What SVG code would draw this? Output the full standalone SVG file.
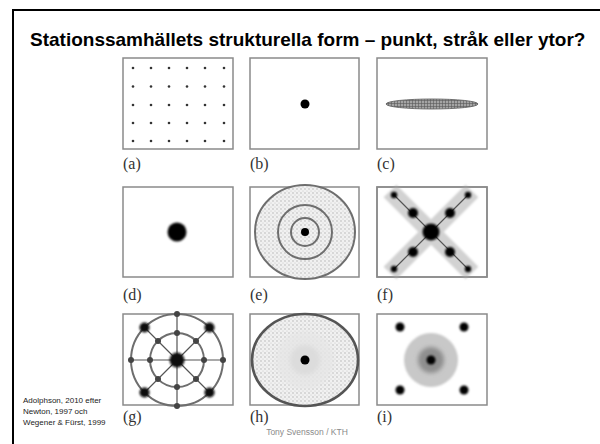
<svg xmlns="http://www.w3.org/2000/svg" width="600" height="444" viewBox="0 0 600 444">
<defs>
<style>
.box{fill:#fff;stroke:#8a8a8a;stroke-width:1.5}
.lbl{font-family:"Liberation Serif","Times New Roman",serif;font-size:16px;fill:#333}
.dot{fill:#000}
.ring{fill:none;stroke:#6e6e6e;stroke-width:2}
.ln{stroke:#555;stroke-width:1.2;fill:none}
</style>
<pattern id="stip" width="4" height="4" patternUnits="userSpaceOnUse">
<rect width="4" height="4" fill="#f1f1f1"/>
<circle cx="1" cy="1" r="0.65" fill="#aaa"/>
<circle cx="3" cy="3" r="0.6" fill="#c4c4c4"/>
</pattern>
<pattern id="hatch" width="3" height="3" patternUnits="userSpaceOnUse">
<rect width="3" height="3" fill="#a4a4a4"/>
<path d="M0 1.5H3M1.5 0V3" stroke="#5a5a5a" stroke-width="0.6"/>
</pattern>
<filter id="soft" x="-50%" y="-50%" width="200%" height="200%"><feGaussianBlur stdDeviation="1"/></filter>
<filter id="soft2" x="-50%" y="-50%" width="200%" height="200%"><feGaussianBlur stdDeviation="2"/></filter>
</defs>
<rect width="600" height="444" fill="#fff"/>
<path d="M13 444V10H600" fill="none" stroke="#000" stroke-width="2"/>
<text x="30" y="46" font-family="Liberation Sans,Arial,sans-serif" font-weight="bold" font-size="19" fill="#000">Stationssamhällets strukturella form – punkt, stråk eller ytor?</text>

<g id="panel-a">
<rect class="box" x="123" y="58" width="110" height="91"/>
<g fill="#333">
<circle cx="133" cy="68" r="1.3"/><circle cx="151" cy="68" r="1.3"/><circle cx="169" cy="68" r="1.3"/><circle cx="187" cy="68" r="1.3"/><circle cx="205" cy="68" r="1.3"/><circle cx="224" cy="68" r="1.3"/>
<circle cx="133" cy="86.5" r="1.3"/><circle cx="151" cy="86.5" r="1.3"/><circle cx="169" cy="86.5" r="1.3"/><circle cx="187" cy="86.5" r="1.3"/><circle cx="205" cy="86.5" r="1.3"/><circle cx="224" cy="86.5" r="1.3"/>
<circle cx="133" cy="105" r="1.3"/><circle cx="151" cy="105" r="1.3"/><circle cx="169" cy="105" r="1.3"/><circle cx="187" cy="105" r="1.3"/><circle cx="205" cy="105" r="1.3"/><circle cx="224" cy="105" r="1.3"/>
<circle cx="133" cy="123" r="1.3"/><circle cx="151" cy="123" r="1.3"/><circle cx="169" cy="123" r="1.3"/><circle cx="187" cy="123" r="1.3"/><circle cx="205" cy="123" r="1.3"/><circle cx="224" cy="123" r="1.3"/>
<circle cx="133" cy="141" r="1.3"/><circle cx="151" cy="141" r="1.3"/><circle cx="169" cy="141" r="1.3"/><circle cx="187" cy="141" r="1.3"/><circle cx="205" cy="141" r="1.3"/><circle cx="224" cy="141" r="1.3"/>
</g>
<text class="lbl" x="123" y="169">(a)</text>
</g>

<g id="panel-b">
<rect class="box" x="250" y="58" width="109" height="91"/>
<circle class="dot" cx="305" cy="104" r="4.5"/>
<text class="lbl" x="250" y="169">(b)</text>
</g>

<g id="panel-c">
<rect class="box" x="377" y="58" width="110" height="91"/>
<ellipse cx="432" cy="104" rx="46" ry="5" fill="url(#hatch)" stroke="#555" stroke-width="0.8"/>
<text class="lbl" x="377" y="169">(c)</text>
</g>

<g id="panel-d">
<rect class="box" x="123" y="187" width="110" height="90"/>
<circle cx="177" cy="232" r="9.5" fill="#000" filter="url(#soft)"/>
<text class="lbl" x="123" y="300">(d)</text>
</g>

<g id="panel-e">
<rect class="box" x="250" y="187" width="109" height="90"/>
<ellipse cx="305" cy="232" rx="50" ry="47" fill="url(#stip)"/>
<ellipse class="ring" cx="305" cy="232" rx="50" ry="47"/>
<circle class="ring" cx="305" cy="232" r="27"/>
<circle class="ring" cx="305" cy="232" r="14"/>
<circle class="dot" cx="305" cy="232" r="4"/>
<text class="lbl" x="250" y="300">(e)</text>
</g>

<g id="panel-f">
<rect class="box" x="377" y="187" width="110" height="90"/>
<g filter="url(#soft)">
<path d="M390 191L472 273M472 191L390 273" stroke="#d2d2d2" stroke-width="18" fill="none"/>
</g>
<path class="ln" d="M394 195L468 269M468 195L394 269"/>
<g fill="#000" filter="url(#soft)">
<circle cx="431" cy="232" r="8.5"/>
<circle cx="413" cy="213" r="5"/><circle cx="450" cy="213" r="5"/><circle cx="413" cy="252" r="5"/><circle cx="450" cy="252" r="5"/>
<circle cx="394" cy="195" r="3.2"/><circle cx="468" cy="195" r="3.2"/><circle cx="394" cy="269" r="3.2"/><circle cx="468" cy="269" r="3.2"/>
</g>
<rect x="377" y="187" width="110" height="90" fill="none" stroke="#8a8a8a" stroke-width="1.5"/>
<text class="lbl" x="377" y="300">(f)</text>
</g>

<g id="panel-g">
<rect class="box" x="123" y="314" width="110" height="91"/>
<circle class="ring" cx="177" cy="360" r="46" stroke="#555"/>
<circle class="ring" cx="177" cy="360" r="27" stroke="#555"/>
<path class="ln" stroke-width="1.6" d="M131 360H223M177 314V406M144.5 327.5L209.5 392.5M209.5 327.5L144.5 392.5"/>
<g fill="#111" filter="url(#soft)">
<circle cx="177" cy="360" r="7.5"/>
<circle cx="144.5" cy="327.5" r="5"/><circle cx="209.5" cy="327.5" r="5"/><circle cx="144.5" cy="392.5" r="5"/><circle cx="209.5" cy="392.5" r="5"/>
</g>
<g fill="#444">
<circle cx="131" cy="360" r="3"/><circle cx="223" cy="360" r="3"/><circle cx="177" cy="314" r="3"/><circle cx="177" cy="406" r="3"/>
<circle cx="150" cy="360" r="3"/><circle cx="204" cy="360" r="3"/><circle cx="177" cy="333" r="3"/><circle cx="177" cy="387" r="3"/>
<circle cx="158" cy="341" r="3"/><circle cx="196" cy="341" r="3"/><circle cx="158" cy="379" r="3"/><circle cx="196" cy="379" r="3"/>
</g>
<text class="lbl" x="123" y="422" font-size="17" fill="#222">(g)</text>
</g>

<g id="panel-h">
<rect class="box" x="250" y="314" width="109" height="91"/>
<ellipse cx="305" cy="360" rx="53" ry="46" fill="url(#stip)"/>
<circle cx="305" cy="360" r="29" fill="#e6e6e6" opacity="0.8" filter="url(#soft2)"/>
<circle cx="305" cy="360" r="15" fill="#dcdcdc" filter="url(#soft2)"/>
<ellipse cx="305" cy="360" rx="53" ry="46" fill="none" stroke="#555" stroke-width="2.6"/>
<circle class="dot" cx="305" cy="360" r="4.5"/>
<text class="lbl" x="250" y="422" font-size="17" fill="#222">(h)</text>
</g>

<g id="panel-i">
<rect class="box" x="377" y="314" width="110" height="91" fill="url(#stip)"/>
<circle cx="431" cy="360" r="27" fill="#c8c8c8" filter="url(#soft)"/>
<circle cx="431" cy="360" r="13" fill="#8e8e8e" filter="url(#soft2)"/>
<g fill="#000" filter="url(#soft)">
<circle cx="431" cy="360" r="4.5"/>
<circle cx="400" cy="327" r="4.5"/><circle cx="464" cy="327" r="4.5"/><circle cx="400" cy="390" r="4.5"/><circle cx="464" cy="390" r="4.5"/>
</g>
<text class="lbl" x="377" y="422" font-size="17" fill="#222">(i)</text>
</g>

<g id="credits" font-family="Liberation Sans,Arial,sans-serif">
<text x="23" y="403" font-size="8" fill="#222">Adolphson, 2010 efter</text>
<text x="23" y="414" font-size="8" fill="#222">Newton, 1997 och</text>
<text x="23" y="425" font-size="8" fill="#222">Wegener &amp; Fürst, 1999</text>
<text x="307" y="435" font-size="8.5" fill="#8a8a8a" text-anchor="middle">Tony Svensson / KTH</text>
</g>
</svg>
